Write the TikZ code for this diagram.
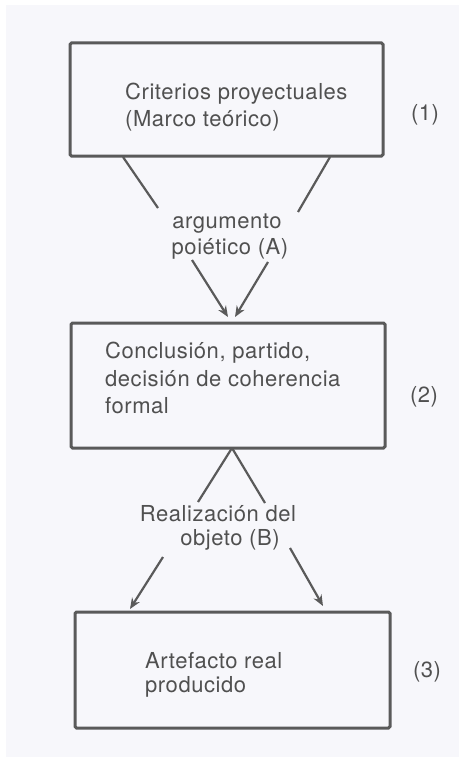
\documentclass[tikz,border=0pt]{standalone}
\usepackage{fontspec}
\setmainfont[LetterSpace=2.5]{TeX Gyre Heros}
\usetikzlibrary{arrows.meta}
\definecolor{bgc}{HTML}{F7F7FB}
\definecolor{ink}{HTML}{5A5A5A}
\definecolor{txt}{HTML}{505050}
\begin{document}
\begin{tikzpicture}[x=1pt,y=-1pt,
  box/.style={draw=ink,line width=3pt,rounded corners=1.5pt,rectangle,inner sep=0pt},
  tx/.style={text=txt,inner sep=0pt,font=\fontsize{22}{27}\selectfont},
  conn/.style={draw=ink,line width=2.2pt},
  arr/.style={conn,-{Stealth[length=11pt,width=9pt]}}]
\useasboundingbox (0,0) rectangle (459,757);
\fill[bgc] (6,5) rectangle (459,757);
% boxes
\node[box,minimum width=313pt,minimum height=113pt] (b1) at (226.5,99.5) {};
\node[box,minimum width=314pt,minimum height=125pt] (b2) at (228,385.5) {};
\node[box,minimum width=315pt,minimum height=116pt] (b3) at (232.5,670) {};
% box texts
\node[tx,anchor=base west] (t1a) at (125,100) {Criterios proyectuales};
\node[tx,anchor=base west] (t1b) at (125,126) {(Marco teórico)};
\node[tx,anchor=base west] (t2a) at (105,358) {Conclusión, partido,};
\node[tx,anchor=base west] (t2b) at (105,386) {decisión de coherencia};
\node[tx,anchor=base west] (t2c) at (105,413) {formal};
\node[tx,anchor=base west] (t3a) at (145,668) {Artefacto real};
\node[tx,anchor=base west] (t3b) at (145,692) {producido};
% numbers
\node[tx] (n1) at (425,115) {(1)};
\node[tx] (n2) at (424,397) {(2)};
\node[tx] (n3) at (427,672) {(3)};
% connector labels
\node[tx,anchor=base] (la1) at (227,228) {argumento};
\node[tx,anchor=base] (la2) at (230,254) {poiético (A)};
\node[tx,anchor=base] (lb1) at (218,521) {Realización del};
\node[tx,anchor=base] (lb2) at (230,545) {objeto (B)};
% connector end points
\coordinate (p1) at (123,157);
\coordinate (p2) at (330,157);
\coordinate (q1) at (158,208);
\coordinate (q2) at (298,212);
\coordinate (r1) at (192,260);
\coordinate (r2) at (268,262);
\coordinate (s1) at (228,317);
\coordinate (s2) at (235,317);
\coordinate (apex) at (232,448);
\coordinate (u1) at (198,502);
\coordinate (u2) at (265,503);
\coordinate (v1) at (163,557);
\coordinate (v2) at (290,548);
\coordinate (w1) at (130,609);
\coordinate (w2) at (323,606);
% connectors
\draw[conn] (p1) -- (q1);
\draw[conn] (p2) -- (q2);
\draw[arr] (r1) -- (s1);
\draw[arr] (r2) -- (s2);
\draw[conn] (apex) -- (u1);
\draw[conn] (apex) -- (u2);
\draw[arr] (v1) -- (w1);
\draw[arr] (v2) -- (w2);
\end{tikzpicture}
\end{document}
